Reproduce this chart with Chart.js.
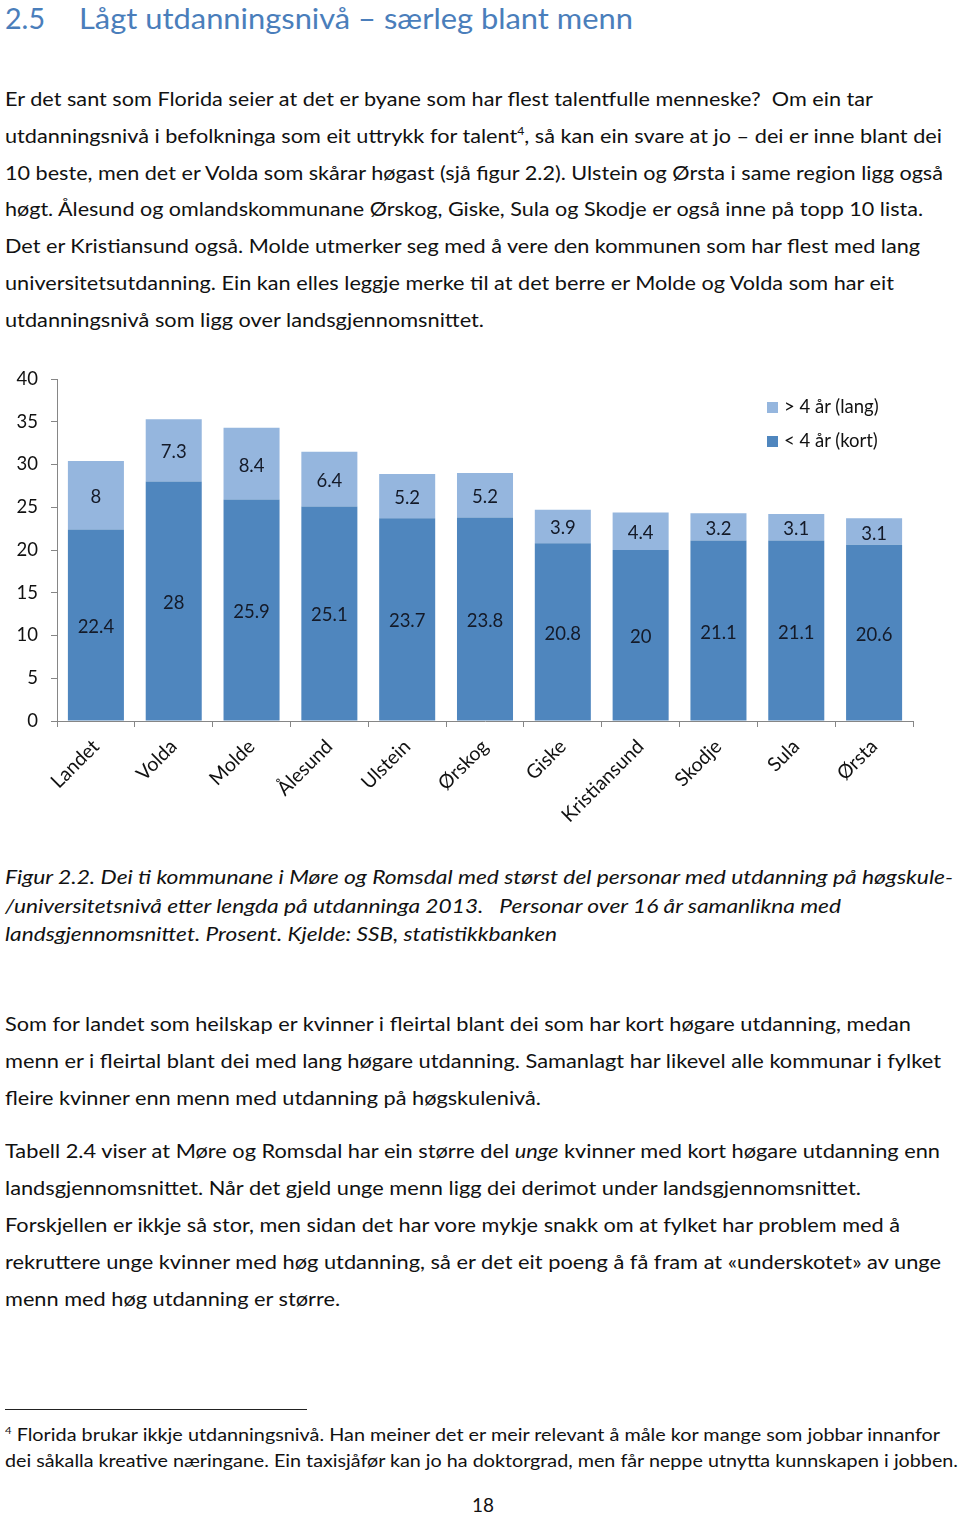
<!DOCTYPE html>
<html><head><meta charset="utf-8">
<script src="https://cdn.jsdelivr.net/npm/chart.js@4.4.1/dist/chart.umd.min.js"></script>
<style>
html,body{margin:0;padding:0;background:#fff;}
body{width:960px;height:1515px;position:relative;overflow:hidden;font-family:Lato,"Open Sans",sans-serif;color:#111;}
.ln{position:absolute;white-space:nowrap;transform-origin:0 50%;}
.sup{position:relative;line-height:0;}
#wrap{position:absolute;left:0;top:350px;width:960px;height:500px;}
.lg{position:absolute;font-size:18.5px;line-height:22px;white-space:nowrap;color:#111;}
.lg i{display:inline-block;width:11px;height:11px;margin-right:6px;vertical-align:0px;}
#rule{position:absolute;left:5px;top:1409px;width:302px;height:1px;background:#222;}
</style></head>
<body>
<div id="wrap"><canvas id="c" width="960" height="500"></canvas></div>
<div id="legend"></div>
<div id="rule"></div>
<script>
// ---- chart data ----
const categories = ["Landet","Volda","Molde","Ålesund","Ulstein","Ørskog","Giske","Kristiansund","Skodje","Sula","Ørsta"];
const kortValues = [22.4, 28, 25.9, 25.1, 23.7, 23.8, 20.8, 20, 21.1, 21.1, 20.6];
const langValues = [8, 7.3, 8.4, 6.4, 5.2, 5.2, 3.9, 4.4, 3.2, 3.1, 3.1];
const seriesNames = ["< 4 år (kort)", "> 4 år (lang)"];
const yMin = 0, yMax = 40, yStep = 5;

const darkBlue = "#4F86BE", lightBlue = "#95B6DE";

// ---- text lines: [html, left, centerY, right, size, style] ----
const lines = [
 ["2.5", 5, 18, 45, 28, "title"],
 ["Lågt utdanningsnivå – særleg blant menn", 79, 18, 633, 28, "title"],
 ["Er det sant som Florida seier at det er byane som har flest talentfulle menneske?&nbsp; Om ein tar", 5, 99, 873, 19.5, ""],
 ["utdanningsnivå i befolkninga som eit uttrykk for talent<span class='sup' style='font-size:11px;top:-8px'>4</span>, så kan ein svare at jo – dei er inne blant dei", 5, 136, 942, 19.5, ""],
 ["10 beste, men det er Volda som skårar høgast (sjå figur 2.2). Ulstein og Ørsta i same region ligg også", 5, 173, 943, 19.5, ""],
 ["høgt. Ålesund og omlandskommunane Ørskog, Giske, Sula og Skodje er også inne på topp 10 lista.", 5, 209, 923, 19.5, ""],
 ["Det er Kristiansund også. Molde utmerker seg med å vere den kommunen som har flest med lang", 5, 246, 920, 19.5, ""],
 ["universitetsutdanning. Ein kan elles leggje merke til at det berre er Molde og Volda som har eit", 5, 283, 894, 19.5, ""],
 ["utdanningsnivå som ligg over landsgjennomsnittet.", 5, 320, 484, 19.5, ""],
 ["Figur 2.2. Dei ti kommunane i Møre og Romsdal med størst del personar med utdanning på høgskule-", 5, 876, 953, 20, "it"],
 ["/universitetsnivå etter lengda på utdanninga 2013.&nbsp;&nbsp; Personar over 16 år samanlikna med", 5, 905, 841, 20, "it"],
 ["landsgjennomsnittet. Prosent. Kjelde: SSB, statistikkbanken", 5, 933, 557, 20, "it"],
 ["Som for landet som heilskap er kvinner i fleirtal blant dei som har kort høgare utdanning, medan", 5, 1024, 911, 19.5, ""],
 ["menn er i fleirtal blant dei med lang høgare utdanning. Samanlagt har likevel alle kommunar i fylket", 5, 1061, 941, 19.5, ""],
 ["fleire kvinner enn menn med utdanning på høgskulenivå.", 5, 1098, 541, 19.5, ""],
 ["Tabell 2.4 viser at Møre og Romsdal har ein større del <i>unge</i> kvinner med kort høgare utdanning enn", 5, 1151, 940, 19.5, ""],
 ["landsgjennomsnittet. Når det gjeld unge menn ligg dei derimot under landsgjennomsnittet.", 5, 1188, 861, 19.5, ""],
 ["Forskjellen er ikkje så stor, men sidan det har vore mykje snakk om at fylket har problem med å", 5, 1225, 900, 19.5, ""],
 ["rekruttere unge kvinner med høg utdanning, så er det eit poeng å få fram at «underskotet» av unge", 5, 1262, 941, 19.5, ""],
 ["menn med høg utdanning er større.", 5, 1299, 340, 19.5, ""],
 ["<span class='sup' style='font-size:10px;top:-7px'>4</span> Florida brukar ikkje utdanningsnivå. Han meiner det er meir relevant å måle kor mange som jobbar innanfor", 5, 1435, 940, 17.5, ""],
 ["dei såkalla kreative næringane. Ein taxisjåfør kan jo ha doktorgrad, men får neppe utnytta kunnskapen i jobben.", 5, 1461, 958, 17.5, ""],
 ["18", 472, 1505, 494, 19.5, ""]
];
for (const [html, left, cy, right, size, st] of lines) {
  const d = document.createElement("div");
  d.className = "ln";
  d.innerHTML = html;
  d.style.left = left + "px";
  d.style.fontSize = size + "px";
  d.style.lineHeight = "30px";
  d.style.height = "30px";
  d.style.top = (cy - 15) + "px";
  if (st === "title") d.style.color = "#4A7EBB";
  if (st === "it") d.style.fontStyle = "italic";
  document.body.appendChild(d);
  const w = d.getBoundingClientRect().width;
  d.style.transform = "scaleX(" + ((right - left) / w).toFixed(4) + ")";
}

// ---- data label plugin ----
const segLabels = {
  id: "segLabels",
  afterDatasetsDraw(chart) {
    const ctx = chart.ctx;
    ctx.save();
    ctx.font = "18.5px Lato, 'Open Sans', sans-serif";
    ctx.fillStyle = "#141a28";
    ctx.textAlign = "center";
    ctx.textBaseline = "middle";
    chart.data.datasets.forEach((ds, i) => {
      const meta = chart.getDatasetMeta(i);
      meta.data.forEach((bar, j) => {
        const y = (bar.y + bar.base) / 2 + 2;
        ctx.fillText(String(ds.data[j]), bar.x, y);
      });
    });
    ctx.restore();
  }
};

const chart = new Chart(document.getElementById("c"), {
  type: "bar",
  data: {
    labels: categories,
    datasets: [
      { label: seriesNames[0], data: kortValues, backgroundColor: darkBlue, borderWidth: 0 },
      { label: seriesNames[1], data: langValues, backgroundColor: lightBlue, borderWidth: 0 }
    ]
  },
  options: {
    responsive: false,
    animation: false,
    devicePixelRatio: 1,
    layout: { padding: { top: 29, right: 47, left: 0, bottom: 0 } },
    datasets: { bar: { categoryPercentage: 1.0, barPercentage: 0.72 } },
    plugins: { legend: { display: false }, tooltip: { enabled: false } },
    scales: {
      x: {
        stacked: true,
        grid: { drawOnChartArea: false, drawTicks: true, tickLength: 6, color: "#868686", offset: true },
        border: { display: true, color: "#868686", width: 1 },
        ticks: { color: "#111", font: { size: 19.5, family: "Lato, 'Open Sans', sans-serif" }, minRotation: 45, maxRotation: 45, padding: 8, autoSkip: false },
        afterFit(s) { s.height = 129; s.paddingLeft = 0; s.paddingRight = 0; }
      },
      y: {
        stacked: true,
        min: yMin, max: yMax,
        grid: { drawOnChartArea: false, drawTicks: true, tickLength: 6, color: "#868686" },
        border: { display: true, color: "#868686", width: 1 },
        ticks: { stepSize: yStep, color: "#111", font: { size: 18.5, family: "Lato, 'Open Sans', sans-serif" }, padding: 13 },
        afterFit(s) { s.width = 57; s.paddingTop = 0; s.paddingBottom = 0; }
      }
    }
  },
  plugins: [segLabels]
});

// ---- legend (HTML, from series definitions) ----
const legend = document.getElementById("legend");
const legendItems = [[seriesNames[1], lightBlue, 406], [seriesNames[0], darkBlue, 440]];
for (const [name, col, cy] of legendItems) {
  const d = document.createElement("div");
  d.className = "lg";
  d.style.left = "767px";
  d.style.top = (cy - 11) + "px";
  d.innerHTML = "<i style='background:" + col + "'></i>" + name.replace("<", "&lt;").replace(">", "&gt;");
  legend.appendChild(d);
}
</script>
</body></html>
